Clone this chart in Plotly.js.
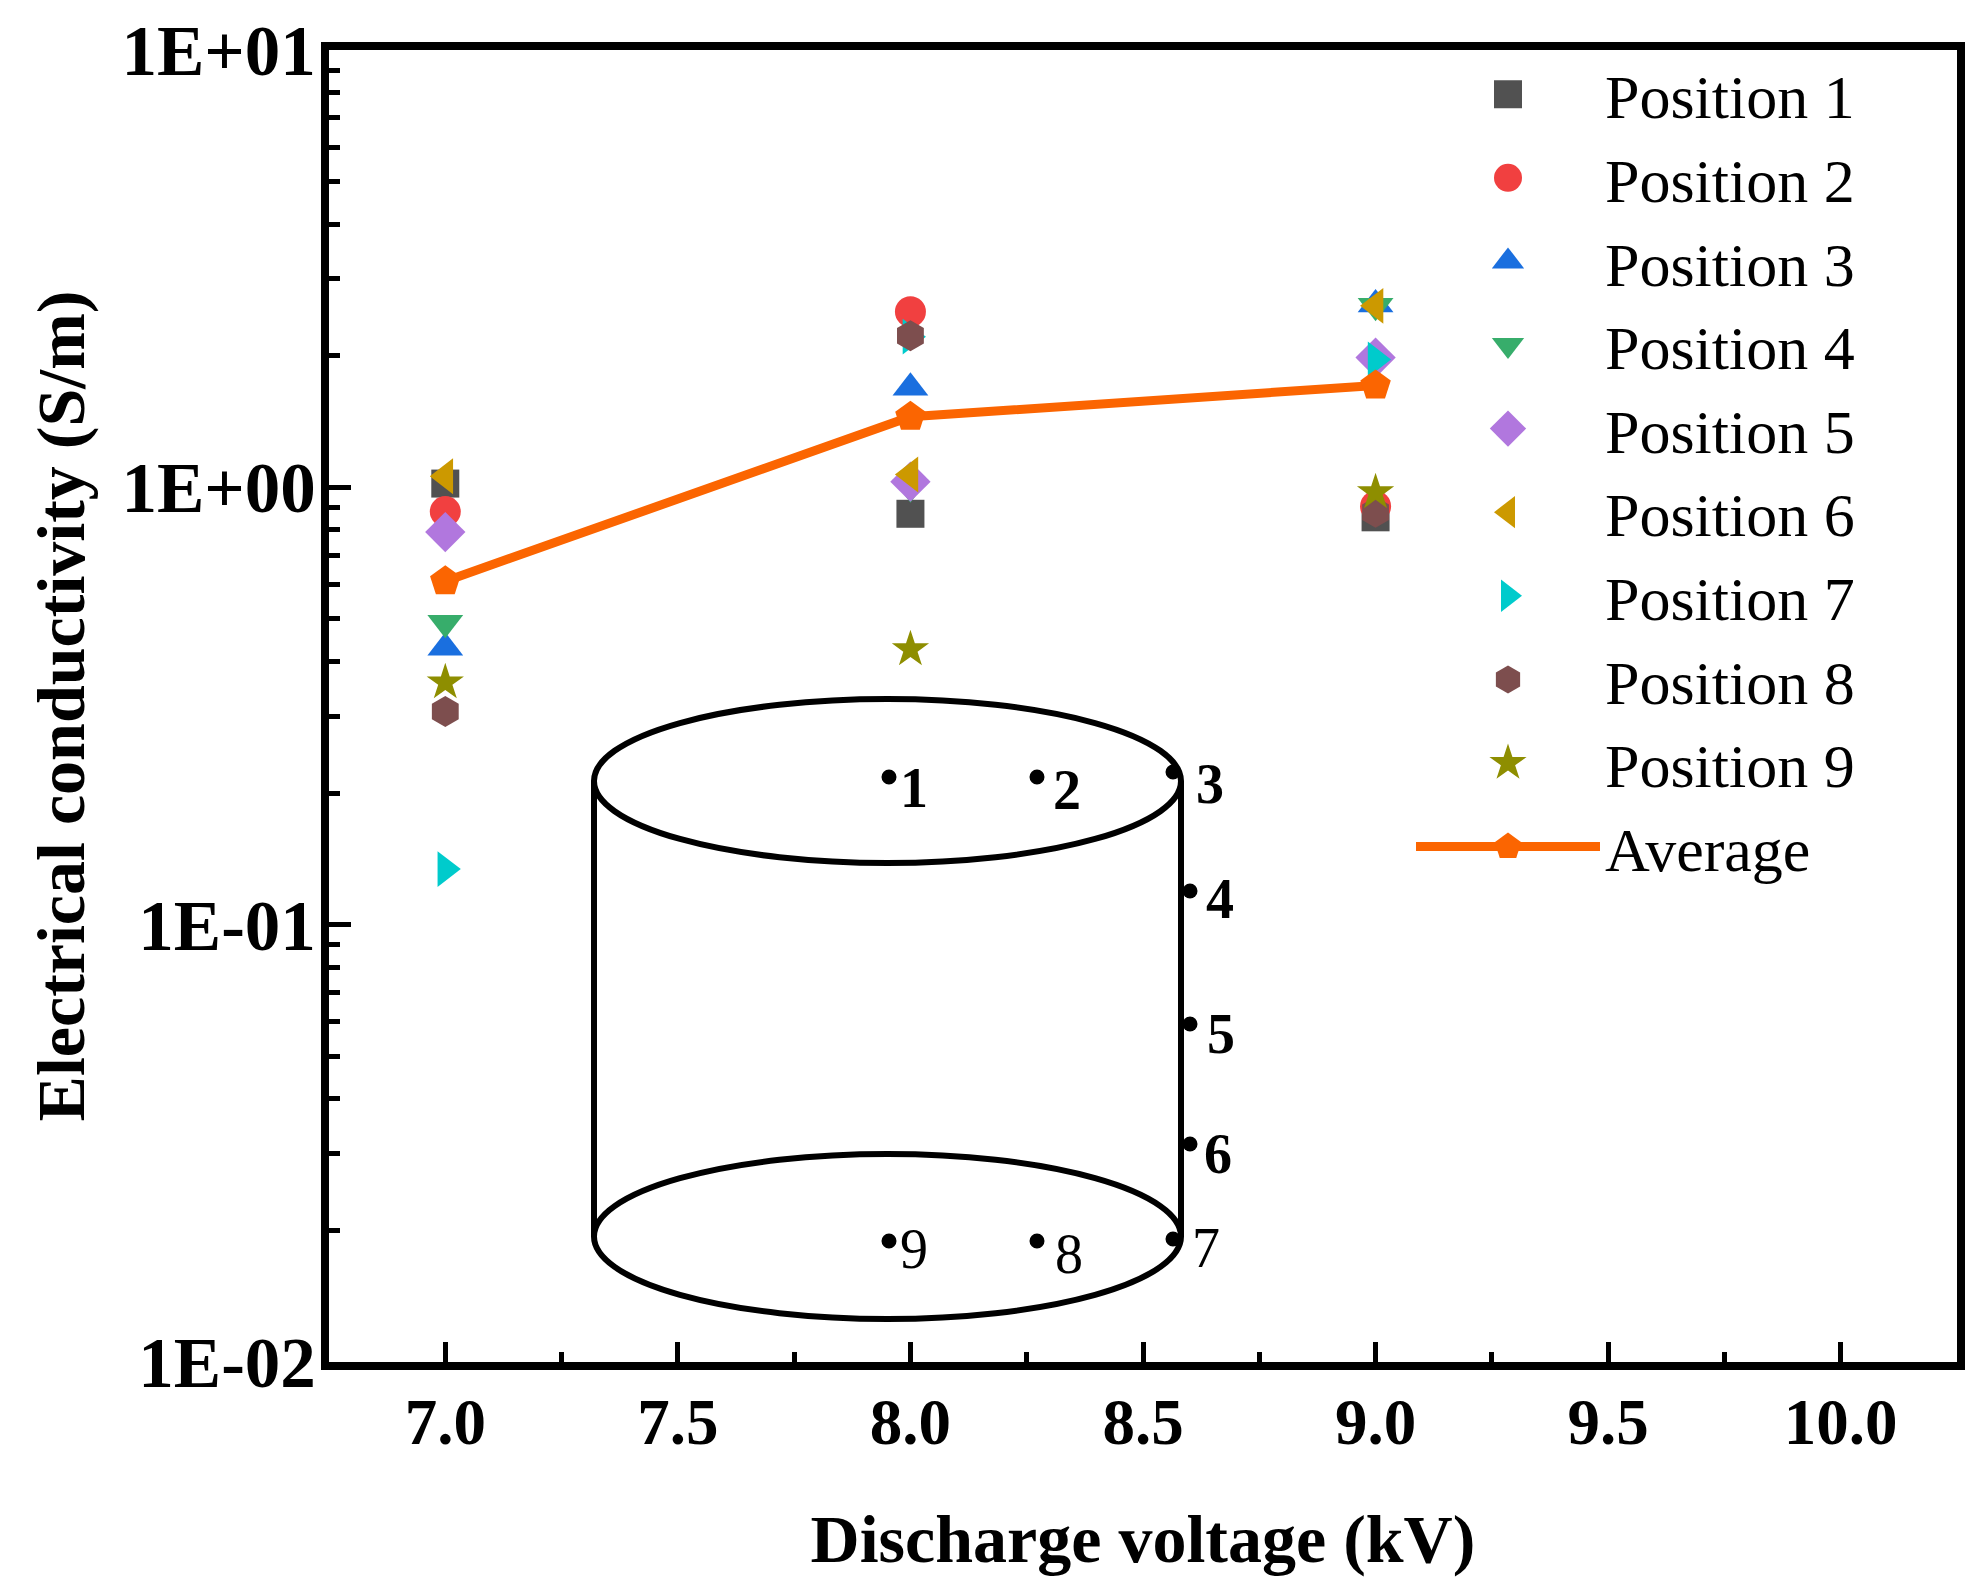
<!DOCTYPE html>
<html>
<head>
<meta charset="utf-8">
<script src="https://cdn.plot.ly/plotly-3.0.1.min.js"></script>
<style>html,body{margin:0;padding:0;background:#fff;}#chart{width:1983px;height:1596px;}</style>
</head>
<body>
<div id="chart"></div>
<script>
// ---- data ----
const voltage = [7.0, 8.0, 9.0];
const position1 = [1.02, 0.87, 0.854];
const position2 = [0.88, 2.52, 0.905];
const position3 = [0.43, 1.69, 2.62];
const position4 = [0.49, 1.00, 2.60];
const position5 = [0.79, 1.03, 1.98];
const position6 = [1.06, 1.07, 2.60];
const position7 = [0.134, 2.21, 1.96];
const position8 = [0.307, 2.22, 0.877];
const position9 = [0.358, 0.426, 0.974];
const average = [0.61, 1.45, 1.71];

const seriesNames = ['Position 1','Position 2','Position 3','Position 4','Position 5',
                     'Position 6','Position 7','Position 8','Position 9'];
const seriesValues = [position1, position2, position3, position4, position5,
                      position6, position7, position8, position9];
const seriesColors = ['#515151','#F14040','#1A6FDF','#37AD6B','#B177DE',
                      '#CC9900','#00CBCC','#7D4E4E','#8E8E00'];
const seriesSymbols = ['square','circle','triangle-up','triangle-down','diamond',
                       'triangle-left','triangle-right','hexagon','star'];
const markerSizes = [28, 31, 31, 31, 31, 31, 31, 31, 28];

const yTickVals = [0.01, 0.1, 1, 10];
const yTickText = ['1E-02', '1E-01', '1E+00', '1E+01'];

// inset schematic labels
const insetLabels = ['1','2','3','4','5','6','7','8','9'];

// ---- build ----
const serif = 'Liberation Serif, Times New Roman, serif';
const traces = seriesNames.map((n, i) => ({
  type: 'scatter', mode: 'markers', name: n,
  x: voltage, y: seriesValues[i],
  marker: {symbol: seriesSymbols[i], color: seriesColors[i], size: markerSizes[i], line: {width: 0}}
}));
traces.push({
  type: 'scatter', mode: 'lines+markers', name: 'Average',
  x: voltage, y: average,
  line: {color: '#FB6501', width: 9},
  marker: {symbol: 'pentagon', color: '#FB6501', size: 32, line: {width: 0}}
});

const minorY = [];
for (let d = -2; d < 1; d++) {
  for (let k = 2; k <= 9; k++) minorY.push(k * Math.pow(10, d));
}

// plot area in pixels: left 329, right 1957, top 50, bottom 1362
const L = 329, R = 1957, T = 50, B = 1362;
const px = v => (v - L) / (R - L);
const py = v => (B - v) / (B - T);

const shapes = [];
const lineStyle = {color: '#000', width: 6};
// top ellipse
shapes.push({type: 'circle', xref: 'paper', yref: 'paper', x0: px(594), x1: px(1181), y0: py(863), y1: py(699), line: lineStyle});
// bottom ellipse
shapes.push({type: 'circle', xref: 'paper', yref: 'paper', x0: px(594), x1: px(1181), y0: py(1319), y1: py(1154), line: lineStyle});
// sides
shapes.push({type: 'line', xref: 'paper', yref: 'paper', x0: px(594), x1: px(594), y0: py(781), y1: py(1236), line: lineStyle});
shapes.push({type: 'line', xref: 'paper', yref: 'paper', x0: px(1181), x1: px(1181), y0: py(781), y1: py(1236), line: lineStyle});

const dotPx = [[889,777],[1037,777],[1173,772],[1190,891],[1190,1024],[1190,1144],[1173,1239],[1037,1241],[889,1241]];
const labPx = [[914,788],[1067,790],[1210,784],[1220,899],[1221,1034],[1218,1154],[1206,1248],[1069,1254],[914,1249]];
const annotations = [];
dotPx.forEach((d, i) => {
  const r = 7.5;
  shapes.push({type: 'circle', xref: 'paper', yref: 'paper',
    x0: px(d[0]-r), x1: px(d[0]+r), y0: py(d[1]+r), y1: py(d[1]-r),
    fillcolor: '#000', line: {width: 0}});
  annotations.push({xref: 'paper', yref: 'paper', x: px(labPx[i][0]), y: py(labPx[i][1]),
    text: insetLabels[i], showarrow: false, xanchor: 'center', yanchor: 'middle',
    font: {family: serif, size: 56, color: '#000', weight: i < 6 ? 'bold' : 'normal'}});
});

const layout = {
  width: 1983, height: 1596,
  margin: {l: L, r: 1983 - R, t: T, b: 1596 - B},
  paper_bgcolor: '#fff', plot_bgcolor: '#fff',
  showlegend: true,
  legend: {
    x: px(1411), y: 1.002, xanchor: 'left', yanchor: 'top',
    bgcolor: 'rgba(0,0,0,0)', borderwidth: 0,
    font: {family: serif, size: 62, color: '#000'},
    itemwidth: 184, tracegroupgap: 0, maxheight: 1500
  },
  xaxis: {
    range: [6.75, 10.25], dtick: 0.5, tick0: 7, tickformat: '.1f',
    showgrid: false, zeroline: false,
    showline: true, linecolor: '#000', linewidth: 8, mirror: true,
    ticks: 'inside', ticklen: 20, tickwidth: 5, tickcolor: '#000',
    minor: {dtick: 0.25, tick0: 7, ticks: 'inside', ticklen: 10, tickwidth: 5, tickcolor: '#000', showgrid: false},
    tickfont: {family: serif, size: 65, color: '#000', weight: 'bold'},
    ticklabelstandoff: -4,
    title: {text: 'Discharge voltage (kV)', font: {family: serif, size: 68, color: '#000', weight: 'bold'}, standoff: 60}
  },
  yaxis: {
    type: 'log', range: [-2, 1],
    tickvals: yTickVals, ticktext: yTickText,
    showgrid: false, zeroline: false,
    showline: true, linecolor: '#000', linewidth: 8, mirror: true,
    ticks: 'inside', ticklen: 22, tickwidth: 5, tickcolor: '#000',
    minor: {tickvals: minorY, ticks: 'inside', ticklen: 11, tickwidth: 5, tickcolor: '#000', showgrid: false},
    tickfont: {family: serif, size: 71, color: '#000', weight: 'bold'},
    ticklabelstandoff: -9,
    title: {text: 'Electrical conductivity (S/m)', font: {family: serif, size: 68, color: '#000', weight: 'bold'}, standoff: 18}
  },
  shapes: shapes,
  annotations: annotations
};

Plotly.newPlot('chart', traces, layout, {displayModeBar: false, staticPlot: true}).then(() => {
  // enlarge legend symbols to match the reference (Plotly caps them at 16px)
  document.querySelectorAll('.legend .legendpoints path.scatterpts').forEach(p => {
    const t = p.getAttribute('transform') || '';
    p.setAttribute('transform', t + ' scale(1.75)');
  });
});
</script>
</body>
</html>
